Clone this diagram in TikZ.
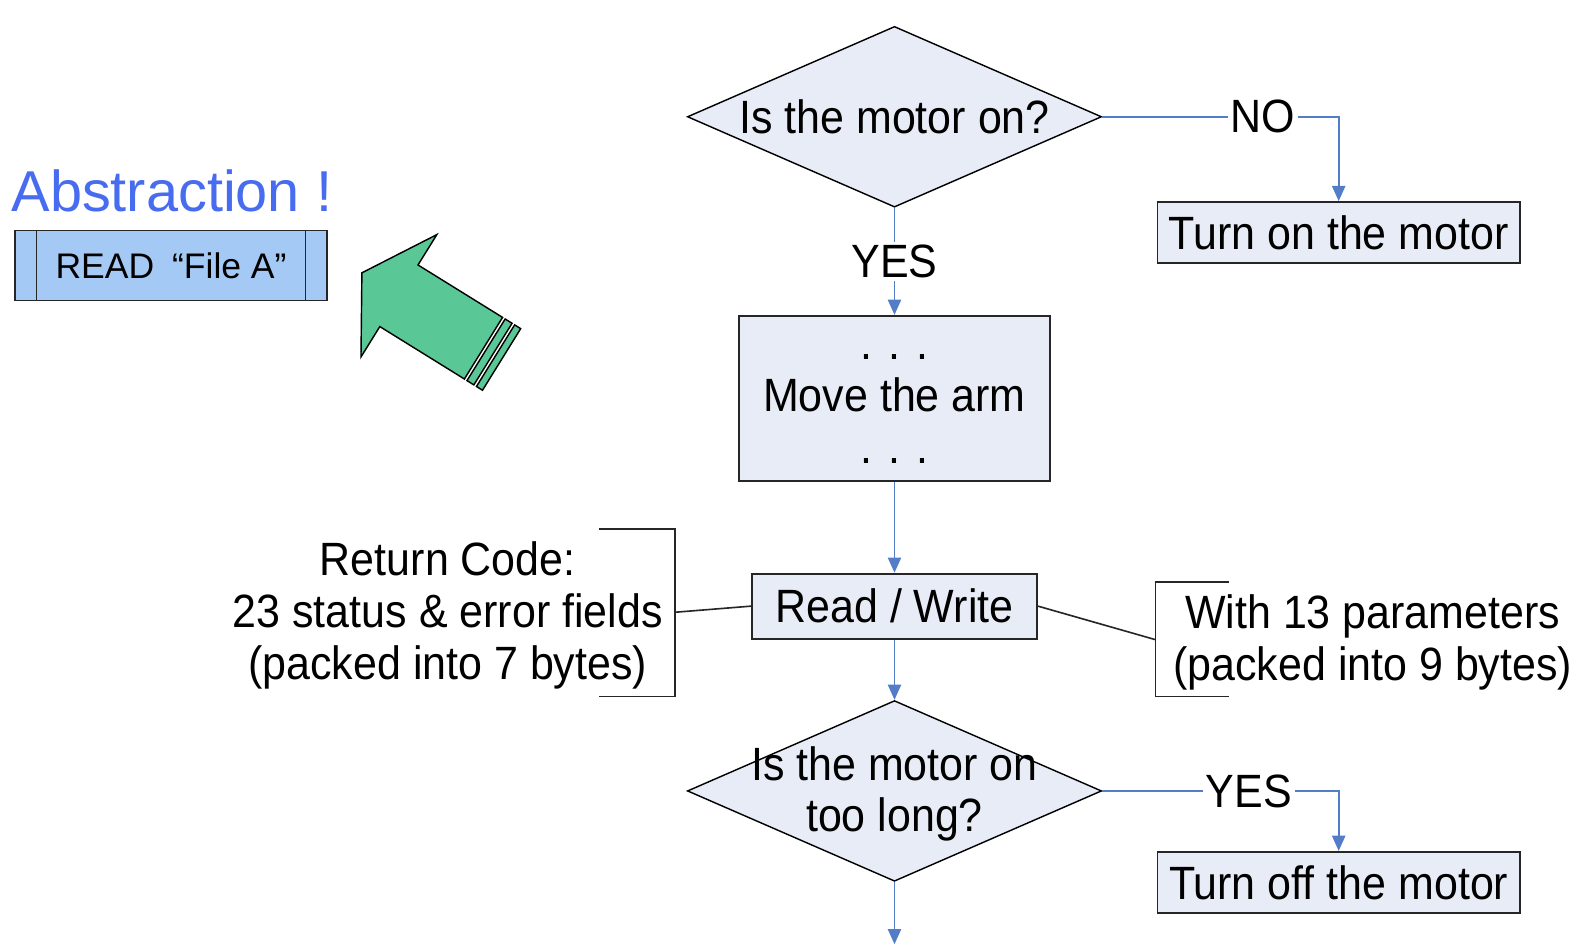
\documentclass[tikz,border=0pt]{standalone}
\usepackage{fontspec}
\setmainfont{Liberation Sans}
\newfontfamily\flowfont[FakeStretch=0.92]{Liberation Sans}
\usetikzlibrary{shapes.geometric,
                arrows.meta,
                calc,
                positioning}
\definecolor{boxfill}{RGB}{232,236,246}
\definecolor{flowblue}{RGB}{84,125,200}
\definecolor{absblue}{RGB}{72,108,240}
\definecolor{predeffill}{RGB}{164,201,245}
\definecolor{arrowgreen}{RGB}{90,199,150}
\newcommand{\flowtext}{\flowfont\fontsize{23}{25.5}\selectfont}
\tikzstyle{decision} = [diamond, minimum width=204pt, minimum height=89pt, inner sep=0pt, draw=black, line width=0.7pt, fill=boxfill]
\tikzstyle{process} = [rectangle, inner sep=0pt, draw=black!85, line width=0.9pt, fill=boxfill, font=\flowtext]
\tikzstyle{predef} = [rectangle, inner sep=0pt, draw=black!85, line width=0.8pt, fill=predeffill,
    path picture={\draw[line width=0.8pt] ([xshift=10.5pt]path picture bounding box.north west) -- ([xshift=10.5pt]path picture bounding box.south west);
                  \draw[line width=0.8pt] ([xshift=-10.5pt]path picture bounding box.north east) -- ([xshift=-10.5pt]path picture bounding box.south east);}]
\tikzstyle{arrow} = [line width=0.9pt, draw=flowblue, -{Triangle[length=7.5pt,width=6.5pt]}]
\tikzstyle{lbl} = [fill=white, inner sep=1.5pt, font=\flowtext]
\tikzstyle{txt} = [inner sep=0pt, align=center, font=\flowtext]
\tikzstyle{bracket} = [line width=0.8pt, draw=black!85]

\begin{document}
\begin{tikzpicture}[x=0.5pt, y=-0.5pt]
    \useasboundingbox (0,0) rectangle (1568,933.7);
    % left side
    \node (abstr) [anchor=base west, inner sep=0pt, text=absblue, font=\fontsize{28.4}{30}\selectfont] at (11,208) {Abstraction !};
    \node (readfile) [predef, minimum width=153.5pt, minimum height=34.5pt, font=\fontsize{17.5}{20}\selectfont] at (168.5,261.5) {READ\hspace{0.5em}“File A”};
    \begin{scope}[shift={(392.9,291.3)}, rotate=-31.8]
        \draw[fill=arrowgreen, line width=0.7pt] (-42.9,0) -- (0,-70.9) -- (0,-35.7) -- (98,-35.7) -- (98,35.7) -- (0,35.7) -- (0,70.9) -- cycle;
        \draw[fill=arrowgreen, line width=0.7pt] (101,-35.7) rectangle (109,35.7);
        \draw[fill=arrowgreen, line width=0.7pt] (112,-35.7) rectangle (119,35.7);
    \end{scope}
    % flow chart
    \node (motoron) [decision] at (881,115) {};
    \node (motorontxt) [txt] at (motoron) {Is the motor on?};
    \node (turnon) [process, minimum width=178.5pt, minimum height=30pt] at (1318.5,229) {Turn on the motor};
    \node (movearm) [process, minimum width=153pt, minimum height=81.5pt, align=center] at (881,392.5) {\rule{0pt}{13pt}. . .\\Move the arm\\. . .};
    \node (rw) [process, minimum width=140.5pt, minimum height=32pt] at (881,597) {Read / Write};
    \node (longcheck) [decision] at (881,779) {};
    \node (longchecktxt) [txt] at (881,782) {Is the motor on\\too long?};
    \node (turnoff) [process, minimum width=178.5pt, minimum height=30pt] at (1318.5,869) {Turn off the motor};
    \coordinate (flowend) at (881,930);
    \draw [arrow] (motoron) -- node[lbl] {YES} (movearm);
    \draw [arrow] (motoron.east) -| node[lbl, pos=0.34] {NO} (turnon.north);
    \draw [arrow] (movearm) -- (rw);
    \draw [arrow] (rw) -- (longcheck);
    \draw [arrow] (longcheck.east) -| node[lbl, pos=0.31] {YES} (turnoff.north);
    \draw [arrow] (longcheck) -- (flowend);
    % notes on read / write
    \node (retcode) [txt] at (441,606) {Return Code:\\23 status \& error fields\\(packed into 7 bytes)};
    \node (params) [txt] at (1352,633) {With 13 parameters\\(packed into 9 bytes)};
    \coordinate (lbrk) at (665,603);
    \coordinate (rbrk) at (1138,630);
    \draw [bracket] (590,521) -| (lbrk) |- (590,686);
    \draw [bracket] (1210,573) -| (rbrk) |- (1210,686);
    \draw [bracket] (lbrk) -- (rw.west);
    \draw [bracket] (rw.east) -- (rbrk);
\end{tikzpicture}
\end{document}
